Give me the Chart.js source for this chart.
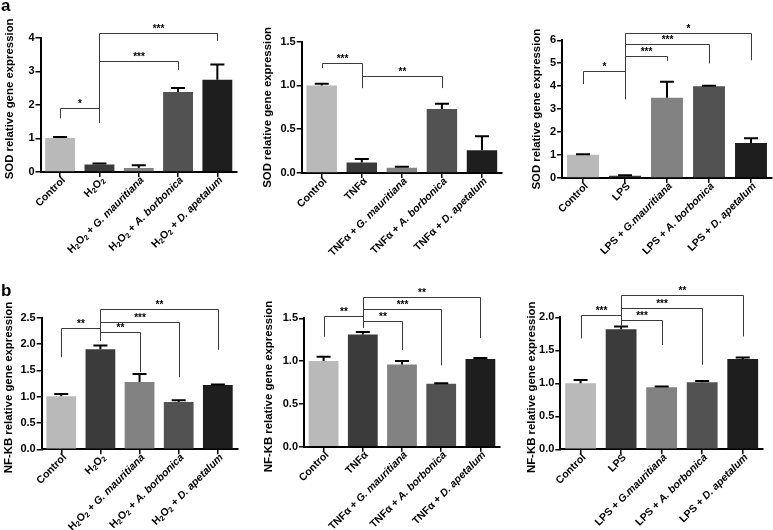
<!DOCTYPE html>
<html>
<head>
<meta charset="utf-8">
<script src="https://cdn.jsdelivr.net/npm/chart.js@4.4.1/dist/chart.umd.min.js"></script>
<style>
  html, body { margin: 0; padding: 0; background: #fff; }
  #wrap { position: relative; width: 773px; height: 530px; overflow: hidden; }
  #wrap canvas { position: absolute; }
</style>
</head>
<body>
<div id="wrap">
  <canvas id="p1"></canvas>
  <canvas id="p2"></canvas>
  <canvas id="p3"></canvas>
  <canvas id="p4"></canvas>
  <canvas id="p5"></canvas>
  <canvas id="p6"></canvas>
</div>
<script>
// categories ("_2" = subscript, "*...*" = italic)
const h2o2Labels = ['Control', 'H_2O_2', 'H_2O_2 + *G. mauritiana*', 'H_2O_2 + *A. borbonica*', 'H_2O_2 + *D. apetalum*'];
const tnfLabels = ['Control', 'TNFα', 'TNFα + *G. mauritiana*', 'TNFα + *A. borbonica*', 'TNFα + *D. apetalum*'];
const lpsLabels = ['Control', 'LPS', 'LPS + *G.mauritiana*', 'LPS + *A. borbonica*', 'LPS + *D. apetalum*'];

// SOD expression (mean, SEM)
const sodH2o2 = [1.01, 0.22, 0.12, 2.38, 2.75];
const sodH2o2Err = [0.03, 0.03, 0.08, 0.12, 0.45];
const sodTnf = [1.0, 0.12, 0.06, 0.73, 0.26];
const sodTnfErr = [0.02, 0.04, 0.01, 0.06, 0.16];
const sodLps = [1.01, 0.1, 3.5, 4.0, 1.52];
const sodLpsErr = [0.03, 0.015, 0.69, 0.02, 0.21];

// NF-KB expression (mean, SEM)
const nfkbH2o2 = [1.01, 1.9, 1.28, 0.9, 1.22];
const nfkbH2o2Err = [0.04, 0.07, 0.15, 0.03, 0.01];
const nfkbTnf = [1.0, 1.31, 0.96, 0.735, 1.025];
const nfkbTnfErr = [0.05, 0.03, 0.04, 0.005, 0.012];
const nfkbLps = [1.0, 1.82, 0.94, 1.015, 1.37];
const nfkbLpsErr = [0.05, 0.04, 0.01, 0.02, 0.02];

// significance brackets: [from, to, top, left leg end, right leg end, label]
const sodH2o2Sig = [[0, 1, 1.9, 1.6, 1.46, '*'], [1, 3, 3.32, 1.55, 3.04, '***'], [1, 4, 4.13, 1.55, 3.91, '***']];
const sodTnfSig = [[0, 1, 1.26, 1.2, 0.97, '***'], [1, 3, 1.11, 0.97, 0.97, '**']];
const sodLpsSig = [[0, 1, 4.67, 4.09, 3.43, '*'], [1, 2, 5.3, 3.54, 5.1, '***'], [1, 3, 5.83, 3.54, 4.99, '***'], [1, 4, 6.32, 3.54, 5.13, '*']];
const nfkbH2o2Sig = [[0, 1, 2.31, 1.75, 2.11, '**'], [1, 2, 2.22, 2.06, 1.47, '**'], [1, 3, 2.42, 2.06, 1.37, '***'], [1, 4, 2.67, 2.06, 1.89, '**']];
const nfkbTnfSig = [[0, 1, 1.527, 1.285, 1.4, '**'], [1, 2, 1.468, 1.39, 1.13, '**'], [1, 3, 1.608, 1.39, 0.95, '***'], [1, 4, 1.748, 1.39, 1.27, '**']];
const nfkbLpsSig = [[0, 1, 2.035, 1.68, 1.91, '***'], [1, 2, 1.96, 1.88, 1.58, '***'], [1, 3, 2.14, 1.88, 1.28, '***'], [1, 4, 2.34, 1.88, 1.71, '**']];

const barColors = ['#b9b9b9', '#3b3b3b', '#828282', '#525252', '#1e1e1e'];
const FONT = '"Liberation Sans", Arial, Helvetica, sans-serif';

const parseLabel = s => {
  const segs = [];
  let italic = false, buf = '';
  const push = () => { if (buf) segs.push({ text: buf, italic, sub: false }); buf = ''; };
  for (let i = 0; i < s.length; i++) {
    const ch = s[i];
    if (ch === '*') { push(); italic = !italic; }
    else if (ch === '_') { push(); segs.push({ text: s[++i], italic, sub: true }); }
    else buf += ch;
  }
  push();
  return segs;
};

const segFont = seg => `${seg.italic ? 'italic ' : ''}bold ${seg.sub ? 7.5 : 10.5}px ${FONT}`;

const drawRotatedLabel = (ctx, text, x, y) => {
  const segs = parseLabel(text);
  let total = 0;
  segs.forEach(seg => { ctx.font = segFont(seg); seg.w = ctx.measureText(seg.text).width; total += seg.w; });
  ctx.save();
  ctx.translate(x, y);
  ctx.rotate(-Math.PI / 4);
  ctx.textBaseline = 'alphabetic';
  ctx.textAlign = 'left';
  let cx = -total;
  segs.forEach(seg => {
    ctx.font = segFont(seg);
    ctx.fillText(seg.text, cx, seg.sub ? 5.5 : 3.8);
    cx += seg.w;
  });
  ctx.restore();
};

const decorPlugin = {
  id: 'decor',
  afterDraw(chart, args, opts) {
    const ctx = chart.ctx;
    const area = chart.chartArea;
    const xs = chart.scales.x;
    const ys = chart.scales.y;
    const bars = chart.getDatasetMeta(0).data;
    const values = chart.data.datasets[0].data;
    ctx.save();
    ctx.fillStyle = '#000';

    // error bars (upper only)
    ctx.strokeStyle = '#000';
    ctx.lineWidth = 2;
    opts.errors.forEach((e, i) => {
      const x = bars[i].x;
      const y0 = ys.getPixelForValue(values[i]);
      const y1 = ys.getPixelForValue(values[i] + e);
      ctx.beginPath();
      ctx.moveTo(x, y0);
      ctx.lineTo(x, y1);
      ctx.moveTo(x - 7, y1);
      ctx.lineTo(x + 7, y1);
      ctx.stroke();
    });

    // significance brackets
    ctx.strokeStyle = '#3a3a3a';
    ctx.lineWidth = 1;
    opts.brackets.forEach(([a, b, top, lEnd, rEnd, label]) => {
      const xl = Math.round(xs.getPixelForValue(a)) + 0.5;
      const xr = Math.round(xs.getPixelForValue(b)) + 0.5;
      const yt = Math.round(ys.getPixelForValue(top)) + 0.5;
      ctx.beginPath();
      ctx.moveTo(xl, ys.getPixelForValue(lEnd));
      ctx.lineTo(xl, yt);
      ctx.lineTo(xr, yt);
      ctx.lineTo(xr, ys.getPixelForValue(rEnd));
      ctx.stroke();
      ctx.font = `bold 10px ${FONT}`;
      ctx.textAlign = 'center';
      ctx.textBaseline = 'alphabetic';
      ctx.fillText(label, (xl + xr) / 2, yt - 2);
    });

    // category labels, rotated 45 degrees
    chart.data.labels.forEach((lab, i) => {
      drawRotatedLabel(ctx, lab, xs.getPixelForValue(i) + 3, area.bottom + 6);
    });

    // y axis title
    ctx.save();
    ctx.translate(opts.titleX, (area.top + area.bottom) / 2 + opts.titleShift);
    ctx.rotate(-Math.PI / 2);
    ctx.font = `bold 11.4px ${FONT}`;
    ctx.textAlign = 'center';
    ctx.textBaseline = 'middle';
    ctx.fillText(opts.title, 0, 0);
    ctx.restore();

    // panel letter
    if (opts.letter) {
      ctx.font = `bold 17px ${FONT}`;
      ctx.textAlign = 'left';
      ctx.textBaseline = 'alphabetic';
      ctx.fillText(opts.letter, 1, opts.letterY);
    }
    ctx.restore();
  }
};

const panels = [
  { id: 'p1', left: 0, top: 0, w: 258, h: 265, labels: h2o2Labels, values: sodH2o2, errors: sodH2o2Err, brackets: sodH2o2Sig,
    max: 4, step: 1, dec: 0, title: 'SOD relative gene expression', yw: 40.5, padTop: 37.7, padRight: 21, xh: 93, titleX: 10, titleShift: -6, letter: 'a', letterY: 11 },
  { id: 'p2', left: 258, top: 0, w: 258, h: 265, labels: tnfLabels, values: sodTnf, errors: sodTnfErr, brackets: sodTnfSig,
    max: 1.5, step: 0.5, dec: 1, title: 'SOD relative gene expression', yw: 43.7, padTop: 41.7, padRight: 14, xh: 92, titleX: 10, titleShift: 0 },
  { id: 'p3', left: 516, top: 0, w: 257, h: 265, labels: lpsLabels, values: sodLps, errors: sodLpsErr, brackets: sodLpsSig,
    max: 6, step: 1, dec: 0, title: 'SOD relative gene expression', yw: 46, padTop: 40.3, padRight: 1, xh: 87, titleX: 21, titleShift: 0 },
  { id: 'p4', left: 0, top: 265, w: 258, h: 265, labels: h2o2Labels, values: nfkbH2o2, errors: nfkbH2o2Err, brackets: nfkbH2o2Sig,
    max: 2.5, step: 0.5, dec: 1, title: 'NF-KB relative gene expression', yw: 41.7, padTop: 52.7, padRight: 20.6, xh: 80.7, titleX: 9, titleShift: 4, letter: 'b', letterY: 31 },
  { id: 'p5', left: 258, top: 265, w: 258, h: 265, labels: tnfLabels, values: nfkbTnf, errors: nfkbTnfErr, brackets: nfkbTnfSig,
    max: 1.5, step: 0.5, dec: 1, title: 'NF-KB relative gene expression', yw: 46, padTop: 53.3, padRight: 16, xh: 83.3, titleX: 11, titleShift: 4 },
  { id: 'p6', left: 516, top: 265, w: 257, h: 265, labels: lpsLabels, values: nfkbLps, errors: nfkbLpsErr, brackets: nfkbLpsSig,
    max: 2.0, step: 0.5, dec: 1, title: 'NF-KB relative gene expression', yw: 44.3, padTop: 52.3, padRight: 10, xh: 80.7, titleX: 16, titleShift: 4 }
];

panels.forEach(p => {
  const canvas = document.getElementById(p.id);
  canvas.width = p.w;
  canvas.height = p.h;
  canvas.style.left = p.left + 'px';
  canvas.style.top = p.top + 'px';
  canvas.style.width = p.w + 'px';
  canvas.style.height = p.h + 'px';

  new Chart(canvas.getContext('2d'), {
    type: 'bar',
    data: {
      labels: p.labels,
      datasets: [{
        data: p.values,
        backgroundColor: barColors,
        borderWidth: 0,
        barPercentage: 0.76,
        categoryPercentage: 1.0
      }]
    },
    options: {
      responsive: false,
      animation: false,
      devicePixelRatio: 1,
      layout: { padding: { left: 0, top: p.padTop, right: p.padRight, bottom: 0 } },
      plugins: {
        legend: { display: false },
        tooltip: { enabled: false },
        decor: {
          errors: p.errors, brackets: p.brackets, title: p.title,
          titleX: p.titleX, titleShift: p.titleShift, letter: p.letter, letterY: p.letterY
        }
      },
      scales: {
        x: {
          grid: { drawOnChartArea: false, drawTicks: true, tickLength: 5, color: '#000', lineWidth: 1.5, offset: false },
          border: { color: '#000', width: 2 },
          ticks: { display: false },
          afterFit: s => { s.height = p.xh; }
        },
        y: {
          min: 0,
          max: p.max,
          grid: { drawOnChartArea: false, tickLength: 5, color: '#000', lineWidth: 1.5 },
          border: { color: '#000', width: 2 },
          ticks: {
            stepSize: p.step,
            color: '#000',
            padding: 1,
            font: { family: FONT, weight: 'bold', size: 11 },
            callback: v => Number(v).toFixed(p.dec)
          },
          afterFit: s => { s.width = p.yw; }
        }
      }
    },
    plugins: [decorPlugin]
  });
});
</script>
</body>
</html>
